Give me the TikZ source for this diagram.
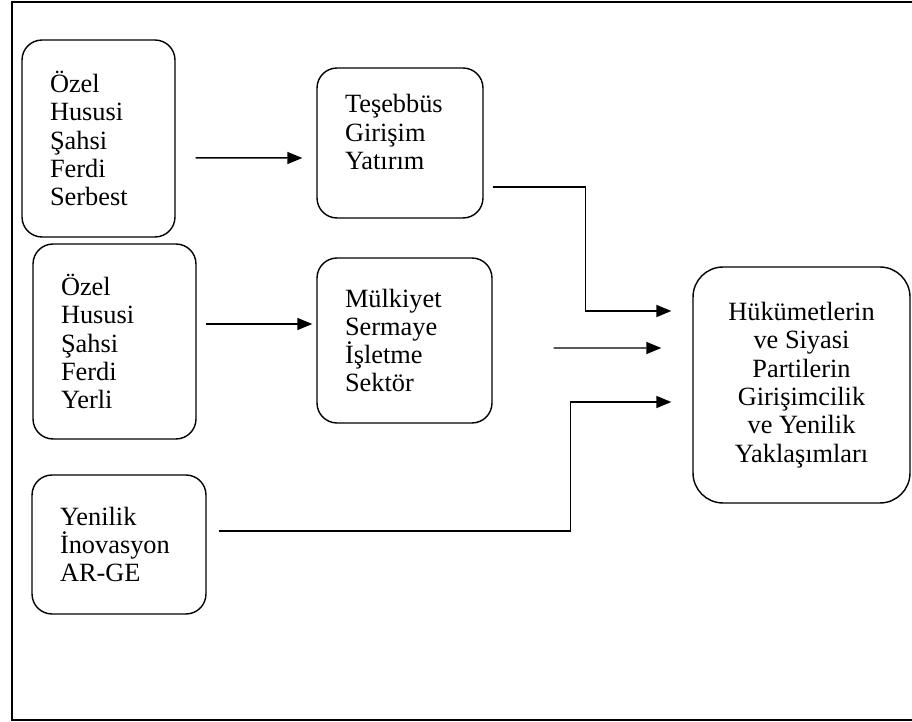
\documentclass[tikz,border=0pt]{standalone}
\usepackage{fontspec}
\setmainfont{Liberation Serif}
\usetikzlibrary{arrows.meta}
\tikzset{
>={Triangle[length=0.3cm,width=0.24cm]},
kutu/.style={draw,line width=0.8pt,rounded corners=0.4cm,align=left,inner xsep=0.56cm,inner ysep=0pt},
ok/.style={->,line width=0.85pt}}

\begin{document}
\begin{tikzpicture}[x=0.02cm,y=-0.02cm,font=\fontsize{15}{16.1}\selectfont]

\useasboundingbox (0,0) rectangle (912,722);
\draw[line width=1.3pt] (913,2) -- (12,2) -- (12,720) -- (913,720);

\node[kutu,text width=1.94cm,minimum height=3.94cm] (b1) at (98.5,138.5) {Özel\\Hususi\\Şahsi\\Ferdi\\Serbest};
\node[kutu,text width=2.20cm,minimum height=3.00cm] (b2) at (400,143) {Teşebbüs\\Girişim\\Yatırım\rule[-0.44cm]{0pt}{1pt}};
\node[kutu,text width=2.14cm,minimum height=3.90cm] (b3) at (114.5,341.5) {Özel\\Hususi\\Şahsi\\Ferdi\\Yerli};
\node[kutu,text width=2.38cm,minimum height=3.30cm] (b4) at (404.5,340.5) {Mülkiyet\\Sermaye\\İşletme\\Sektör};
\node[kutu,text width=2.36cm,minimum height=2.78cm] (b5) at (119,544.5) {Yenilik\\İnovasyon\\AR-GE};
\node[kutu,rounded corners=0.6cm,align=center,inner xsep=0pt,minimum width=4.34cm,minimum height=4.72cm] (b6) at (801.5,385)
  {Hükümetlerin\\ve Siyasi\\Partilerin\\Girişimcilik\\ve Yenilik\\Yaklaşımları};

\draw[ok] ([shift={(20,19.5)}]b1.east) -- ([shift={(-14,15)}]b2.west);
\draw[ok] ([shift={(9,-17.5)}]b3.east) -- ([shift={(-4,-16.5)}]b4.west);
\draw[ok] ([shift={(9,44)}]b2.east) -- ++(93,0) |- ([shift={(-21,-74)}]b6.west);
\draw[ok] ([shift={(61,7.5)}]b4.east) -- ([shift={(-31,-37)}]b6.west);
\draw[ok] ([shift={(12,-13.5)}]b5.east) -- ++(352,0) |- ([shift={(-21,17)}]b6.west);

\end{tikzpicture}
\end{document}
